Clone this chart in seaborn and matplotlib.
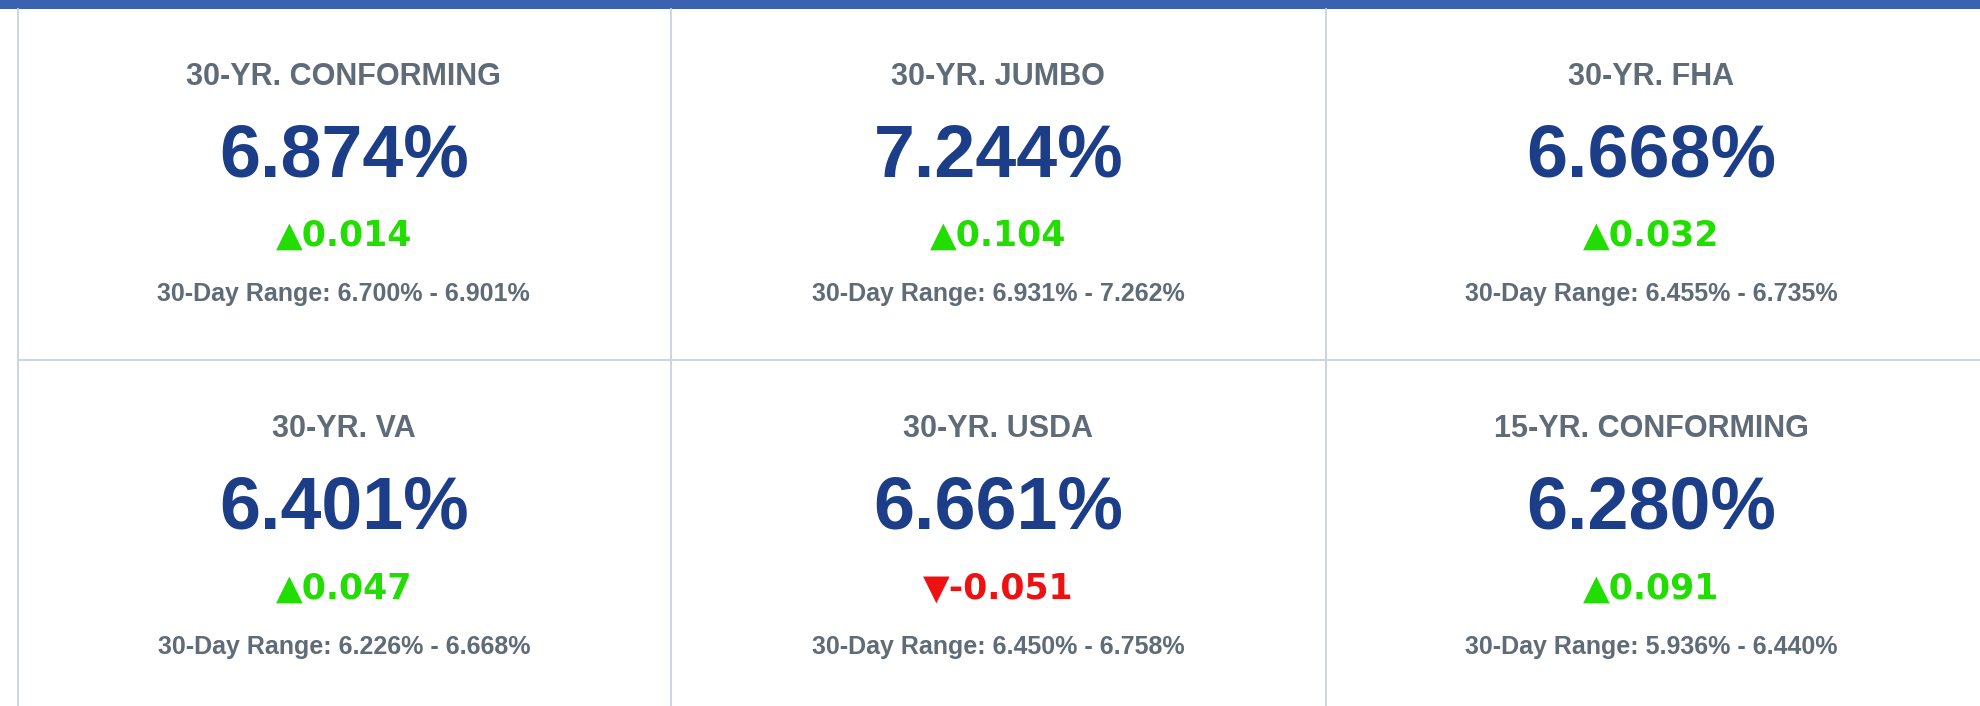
import matplotlib.pyplot as plt
import seaborn as sns

sns.set_theme(style="white")
plt.rcParams['font.family'] = ['Liberation Sans', 'DejaVu Sans']

titles = ["30-YR. CONFORMING", "30-YR. JUMBO", "30-YR. FHA",
          "30-YR. VA", "30-YR. USDA", "15-YR. CONFORMING"]
rates = [6.874, 7.244, 6.668, 6.401, 6.661, 6.280]
changes = [0.014, 0.104, 0.032, 0.047, -0.051, 0.091]
range_lo = [6.700, 6.931, 6.455, 6.226, 6.450, 5.936]
range_hi = [6.901, 7.262, 6.735, 6.668, 6.758, 6.440]

W, H = 1549, 559
fig = plt.figure(figsize=(19.8, 7.06), dpi=100)
ax = fig.add_axes([0, 0, 1, 1])
ax.set_xlim(0, W)
ax.set_ylim(H, 0)
ax.axis('off')

# top blue bar
ax.add_patch(plt.Rectangle((0, 0), W, 7, color='#3a62b0', lw=0))
# grid lines
line_c = '#cfd6df'
for x in [14, 525, 1037]:
    ax.plot([x, x], [7, H], color=line_c, lw=1.5)
ax.plot([14, W], [285, 285], color=line_c, lw=1.5)

col_x = [269, 781, 1292]
row_y = [0, 279]
for i, t in enumerate(titles):
    cx = col_x[i % 3]
    y0 = row_y[i // 3]
    ax.text(cx, y0 + 61, t, ha='center', va='center', fontsize=22,
            fontweight='bold', color='#5f6b77')
    ax.text(cx, y0 + 124, f"{rates[i]:.3f}%", ha='center', va='center',
            fontsize=53, fontweight='bold', color='#1c3d87')
    ch = changes[i]
    if ch >= 0:
        s, c = f"▲{ch:.3f}", '#22dd00'
    else:
        s, c = f"▼{ch:.3f}", '#ee1111'
    ax.text(cx, y0 + 187, s, ha='center', va='center', fontsize=25,
            fontweight='bold', color=c, family=['DejaVu Sans'])
    ax.text(cx, y0 + 233, f"30-Day Range: {range_lo[i]:.3f}% - {range_hi[i]:.3f}%",
            ha='center', va='center', fontsize=18, fontweight='bold', color='#5f6b77')

fig.savefig('out.png', dpi=100, facecolor='white')
